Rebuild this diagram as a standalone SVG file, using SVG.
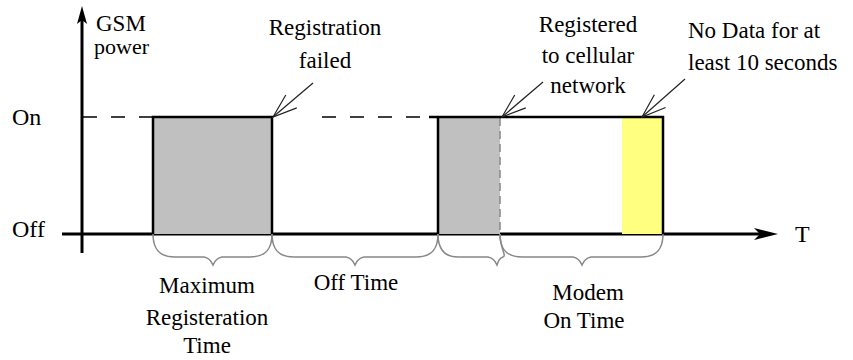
<svg xmlns="http://www.w3.org/2000/svg" width="853" height="360" viewBox="0 0 853 360" font-family="'Liberation Serif', 'DejaVu Serif', serif">
<defs>
<style>
text{font-family:'Liberation Serif','DejaVu Serif',serif;font-size:23px;fill:#000}
.c{text-anchor:middle}
.ax{stroke:#000;stroke-width:3;fill:none}
.edge{stroke:#000;stroke-width:2.5;fill:none}
.dash{stroke:#000;stroke-width:1.5;stroke-dasharray:14 14;fill:none}
.brace{stroke:#888;stroke-width:1.5;fill:none}
.ptr{stroke:#222;stroke-width:1.2;fill:none}
</style>
<marker id="open" markerUnits="userSpaceOnUse" markerWidth="30" markerHeight="20" viewBox="-26 -10 28 20" refX="0" refY="0" orient="auto">
<path d="M-24,-8.5 L0,0 L-24,8.5" fill="none" stroke="#222" stroke-width="1.2"/>
</marker>
</defs>
<rect width="853" height="360" fill="#fff"/>

<g id="axes">
<line class="ax" x1="82" y1="18" x2="82" y2="253"/>
<polygon points="82,6 87,24 82,20 77,24" fill="#000"/>
<line class="ax" x1="62" y1="234" x2="762" y2="234"/>
<polygon points="778,234 754,228 760,234 754,240" fill="#000"/>
<text x="96" y="31" style="font-size:23px">GSM</text>
<text x="94" y="54" style="font-size:22px">power</text>
<text x="12" y="125" style="font-size:24px">On</text>
<text x="12" y="237" style="font-size:24px">Off</text>
<text x="795" y="242" style="font-size:24px">T</text>
</g>

<g id="pulse1">
<line class="dash" x1="83" y1="117" x2="153" y2="117"/>
<rect x="153" y="117" width="119" height="117" fill="#c0c0c0"/>
<path class="edge" d="M153,234 V117 H272 V234"/>
</g>

<g id="offline">
<line class="dash" x1="322" y1="117" x2="438" y2="117"/>
</g>

<g id="pulse2">
<rect x="438" y="117" width="62" height="117" fill="#c0c0c0"/>
<rect x="622" y="117" width="41" height="117" fill="#ffff80"/>
<line x1="500" y1="118" x2="500" y2="234" stroke="#888" stroke-width="1.5" stroke-dasharray="8 5"/>
<path class="edge" d="M438,234 V117 M429,117 H663 V234"/>
</g>

<g id="braces">
<path class="brace" d="M153,234 C153,250 160,257 175,257 L204,257 Q210,258 213,265 Q216,258 222,257 L250,257 C265,257 272,250 272,234"/>
<path class="brace" d="M272,234 C272,250 279,257 294,257 L346,257 Q352,258 355,265 Q358,258 364,257 L416,257 C431,257 438,250 438,234"/>
<path class="brace" d="M438,234 C438,250 445,257 458,257 L488,257 Q494,258 497,265 Q499,258 503,257 C507,256 500,248 500,234"/>
<path class="brace" d="M500,234 C500,250 507,257 522,257 L573,257 Q579,258 582,265 Q585,258 591,257 L641,257 C656,257 663,250 663,234"/>
</g>

<g id="connectors">
<line class="ptr" x1="313" y1="83" x2="273" y2="117" marker-end="url(#open)"/>
<line class="ptr" x1="543" y1="82" x2="502" y2="117" marker-end="url(#open)"/>
<line class="ptr" x1="685" y1="79" x2="642" y2="117" marker-end="url(#open)"/>
</g>

<g id="labels">
<text class="c" x="325" y="35">Registration</text>
<text class="c" x="325" y="68">failed</text>
<text class="c" x="588" y="32">Registered</text>
<text class="c" x="588" y="63">to cellular</text>
<text class="c" x="588" y="93">network</text>
<text x="688" y="38">No Data for at</text>
<text x="688" y="70">least 10 seconds</text>
<text class="c" x="207" y="293">Maximum</text>
<text class="c" x="207" y="325">Registeration</text>
<text class="c" x="207" y="353">Time</text>
<text class="c" x="356" y="290">Off Time</text>
<text class="c" x="588" y="300">Modem</text>
<text class="c" x="584" y="328">On Time</text>
</g>
</svg>
